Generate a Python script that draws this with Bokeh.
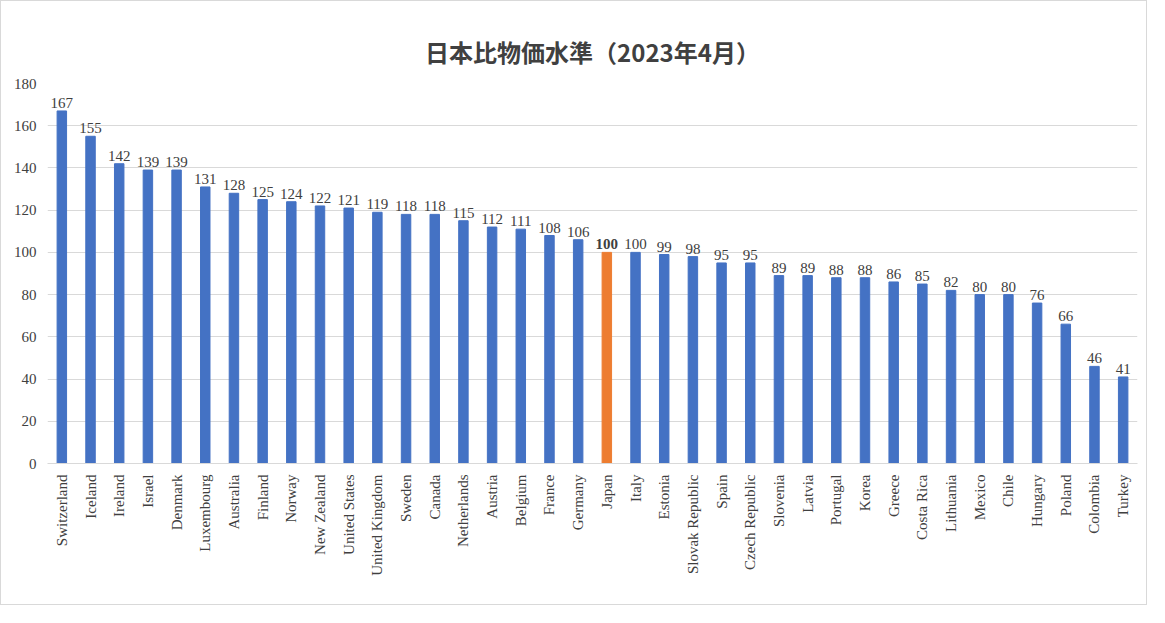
import math
from bokeh.plotting import figure
from bokeh.models import ColumnDataSource, SingleIntervalTicker, LabelSet
from bokeh.embed import file_html
from bokeh.resources import INLINE

countries = ["Switzerland","Iceland","Ireland","Israel","Denmark","Luxembourg","Australia","Finland","Norway","New Zealand","United States","United Kingdom","Sweden","Canada","Netherlands","Austria","Belgium","France","Germany","Japan","Italy","Estonia","Slovak Republic","Spain","Czech Republic","Slovenia","Latvia","Portugal","Korea","Greece","Costa Rica","Lithuania","Mexico","Chile","Hungary","Poland","Colombia","Turkey"]
values = [167,155,142,139,139,131,128,125,124,122,121,119,118,118,115,112,111,108,106,100,100,99,98,95,95,89,89,88,88,86,85,82,80,80,76,66,46,41]
highlight = "Japan"

colors = ["#ED7D31" if c == highlight else "#4472C4" for c in countries]
weights = ["bold" if c == highlight else "normal" for c in countries]
src = ColumnDataSource(dict(x=countries, top=values, color=colors, lbl=[str(v) for v in values], fw=weights))

p = figure(x_range=countries, y_range=(0, 180), width=1147, height=605,
           output_backend="svg", toolbar_location=None,
           min_border_left=46, min_border_right=11, min_border_top=82, min_border_bottom=143)
p.styles = {"border": "1px solid #d9d9d9"}
p.title.text = "日本比物価水準（2023年4月）"
p.title.text_font = "Noto Sans CJK JP"
p.title.text_font_size = "24px"
p.title.text_font_style = "bold"
p.title.text_color = "#404040"
p.title.align = "center"
p.title.offset = 0
p.title.standoff = 30

p.vbar(x="x", top="top", width=0.33, color="color", source=src)
p.add_layout(LabelSet(x="x", y="top", text="lbl", source=src, text_align="center",
                      text_baseline="bottom", y_offset=3, text_font="Liberation Serif",
                      text_font_size="15px", text_color="#404040", text_font_style="fw"))

p.outline_line_color = None
p.yaxis.ticker = SingleIntervalTicker(interval=20)
p.ygrid.grid_line_color = "#d9d9d9"
p.xgrid.grid_line_color = None
p.yaxis.axis_line_color = None
p.yaxis.major_tick_line_color = None
p.yaxis.minor_tick_line_color = None
p.xaxis.axis_line_color = "#d9d9d9"
p.xaxis.major_tick_line_color = None
p.xaxis.major_label_orientation = math.pi / 2
for ax in (p.xaxis, p.yaxis):
    ax.major_label_text_font = "Liberation Serif"
    ax.major_label_text_font_size = "15px"
    ax.major_label_text_color = "#404040"

open("out.html", "w").write(file_html(p, INLINE))
